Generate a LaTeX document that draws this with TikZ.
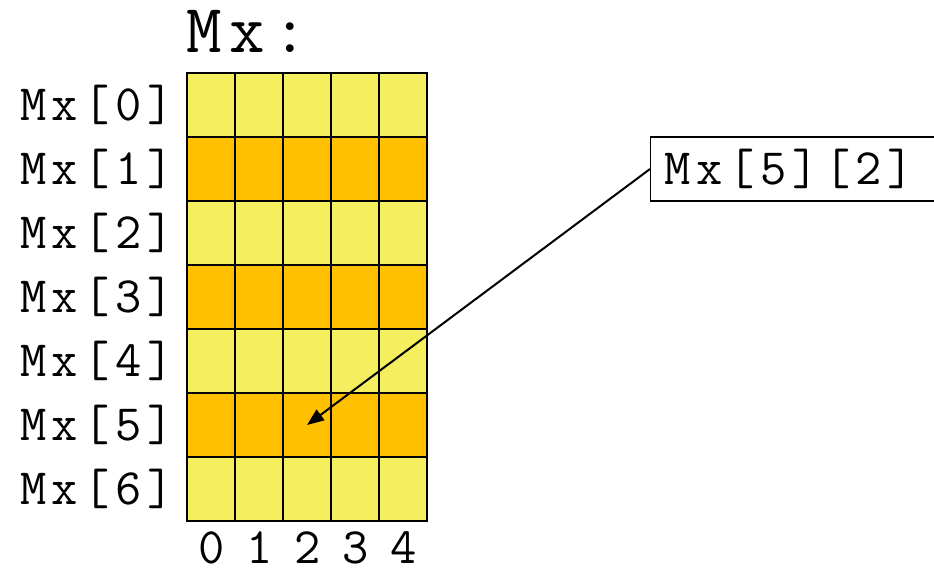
\documentclass[tikz,border=0pt]{standalone}
\usepackage{fontspec}
\setmonofont[LetterSpace=11]{Latin Modern Mono}
\usetikzlibrary{arrows.meta}
\definecolor{cLight}{HTML}{F5EE5E}
\definecolor{cDark}{HTML}{FFC000}
\begin{document}
\begin{tikzpicture}[
  x=1pt, y=-1pt,
  >={Triangle[length=17pt, width=13pt]},
  font=\ttfamily\fontsize{51}{51}\selectfont,
  cell/.style={draw, line width=1.6pt, fill=#1, minimum width=48pt,
               minimum height=64pt, inner sep=0pt, outer sep=0pt},
  lbl/.style={inner sep=0pt},
  idxbox/.style={draw, line width=1.4pt, minimum height=64pt, text width=272pt,
                 align=left, inner xsep=14pt, inner ysep=0pt},
]
  \useasboundingbox (0,0) rectangle (934,571);

  % --- title ---
  \node[lbl, anchor=base west, font=\ttfamily\fontsize{69}{69}\selectfont]
    (title) at (186,52) {Mx:};

  % --- rows of the matrix, with their labels ---
  \foreach \r/\fill in {0/cLight,1/cDark,2/cLight,3/cDark,4/cLight,5/cDark,6/cLight}{
    \foreach \c in {0,...,4}{
      \node[cell=\fill] (c\r\c) at ({211+48*\c}, {105+64*\r}) {};
    }
    \node[lbl, anchor=base east] (row\r) at (174, {120+64*\r}) {Mx[\r]};
  }

  % --- column indices ---
  \foreach \c in {0,...,4}{
    \node[lbl, anchor=base] (col\c) at ({212+48*\c}, 563) {\c};
  }

  % --- element pointer ---
  \node[idxbox, anchor=west] (idx) at (650,169) {Mx[5][2]};
  \draw[->, line width=2pt] (idx.west) -- (c52.center);
\end{tikzpicture}
\end{document}
